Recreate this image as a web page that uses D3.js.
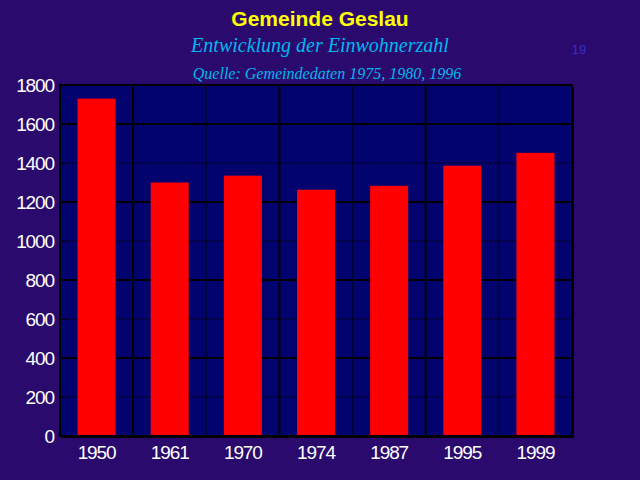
<!DOCTYPE html>
<html><head><meta charset="utf-8">
<script src="https://cdn.jsdelivr.net/npm/d3@7"></script>
<style>html,body{margin:0;padding:0;background:#2a0b6d;}svg{display:block;}</style>
</head><body>
<script>
const categories = ["1950","1961","1970","1974","1987","1995","1999"];
const values = [1730, 1300, 1335, 1263, 1283, 1386, 1452];
const yTicks = [0,200,400,600,800,1000,1200,1400,1600,1800];
const title = "Gemeinde Geslau";
const subtitle = "Entwicklung der Einwohnerzahl";
const source = "Quelle: Gemeindedaten 1975, 1980, 1996";

const W = 640, H = 480;
const m = {left: 60, right: 68, top: 85, bottom: 44};
const svg = d3.select("body").append("svg").attr("width", W).attr("height", H);
svg.append("rect").attr("width", W).attr("height", H).attr("fill", "#2a0b6d");

const x = d3.scaleBand().domain(categories).range([m.left, W - m.right]).paddingInner(0.48).paddingOuter(0.24);
const y = d3.scaleLinear().domain([0, 1800]).range([H - m.bottom, m.top]);

const x0 = m.left, x1 = W - m.right, y0 = y(0), y1 = y(1800);
// shadow
svg.append("rect").attr("x", x0 + 2).attr("y", y1 + 2).attr("width", x1 - x0).attr("height", y0 - y1).attr("fill", "#000");
// plot area
svg.append("rect").attr("x", x0).attr("y", y1).attr("width", x1 - x0).attr("height", y0 - y1).attr("fill", "#03036f");

const g = svg.append("g");
g.selectAll("line.h").data(yTicks.filter(t => t > 0 && t < 1800)).join("line")
  .attr("x1", x0).attr("x2", x1).attr("y1", d => y(d)).attr("y2", d => y(d))
  .attr("stroke", "#000").attr("stroke-width", d => d % 400 === 0 ? 2 : 1)
  .attr("stroke-opacity", d => d % 400 === 0 ? 1 : 0.6);
g.selectAll("line.v").data(d3.range(1, categories.length)).join("line")
  .attr("x1", i => x0 + i * (x1 - x0) / categories.length)
  .attr("x2", i => x0 + i * (x1 - x0) / categories.length)
  .attr("y1", y1).attr("y2", y0)
  .attr("stroke", "#000").attr("stroke-width", i => i % 2 ? 2 : 1)
  .attr("stroke-opacity", i => i % 2 ? 1 : 0.6);

svg.selectAll("rect.bar").data(values).join("rect").attr("class", "bar")
  .attr("x", (d, i) => x(categories[i])).attr("width", x.bandwidth())
  .attr("y", d => y(d)).attr("height", d => y(0) - y(d)).attr("fill", "#ff0000");

svg.append("rect").attr("x", x0).attr("y", y1).attr("width", x1 - x0).attr("height", y0 - y1)
  .attr("fill", "none").attr("stroke", "#000").attr("stroke-width", 2);

const ya = svg.append("g").attr("transform", `translate(${x0},0)`)
  .call(d3.axisLeft(y).tickValues(yTicks).tickSize(-6).tickPadding(6).tickFormat(d3.format("d")));
ya.select(".domain").remove();
ya.selectAll(".tick line").attr("stroke", "#000").attr("stroke-width", 1);
ya.selectAll("text").attr("fill", "#fff").attr("font-family", "Liberation Sans, Arial, sans-serif")
  .attr("font-size", 19).attr("letter-spacing", -1.1);

const xa = svg.append("g").attr("transform", `translate(0,${y0})`)
  .call(d3.axisBottom(x).tickSize(0).tickPadding(10));
xa.select(".domain").remove();
xa.selectAll("text").attr("fill", "#fff").attr("font-family", "Liberation Sans, Arial, sans-serif")
  .attr("font-size", 19).attr("letter-spacing", -1.1);

svg.append("text").attr("x", 320).attr("y", 26).attr("text-anchor", "middle")
  .attr("font-family", "Liberation Sans, Arial, sans-serif").attr("font-weight", "bold").attr("font-size", 21)
  .attr("fill", "#ffff00").text(title);
svg.append("text").attr("x", 320).attr("y", 52).attr("text-anchor", "middle")
  .attr("font-family", "Liberation Serif, Times New Roman, serif").attr("font-style", "italic").attr("font-size", 20)
  .attr("fill", "#00b8f0").text(subtitle);
svg.append("text").attr("x", 327).attr("y", 79).attr("text-anchor", "middle")
  .attr("font-family", "Liberation Serif, Times New Roman, serif").attr("font-style", "italic").attr("font-size", 16)
  .attr("fill", "#00b8f0").text(source);
svg.append("text").attr("x", 579).attr("y", 54).attr("text-anchor", "middle")
  .attr("font-family", "Liberation Sans, Arial, sans-serif").attr("font-size", 13)
  .attr("fill", "#3a2bc8").text("19");
</script>
</body></html>
